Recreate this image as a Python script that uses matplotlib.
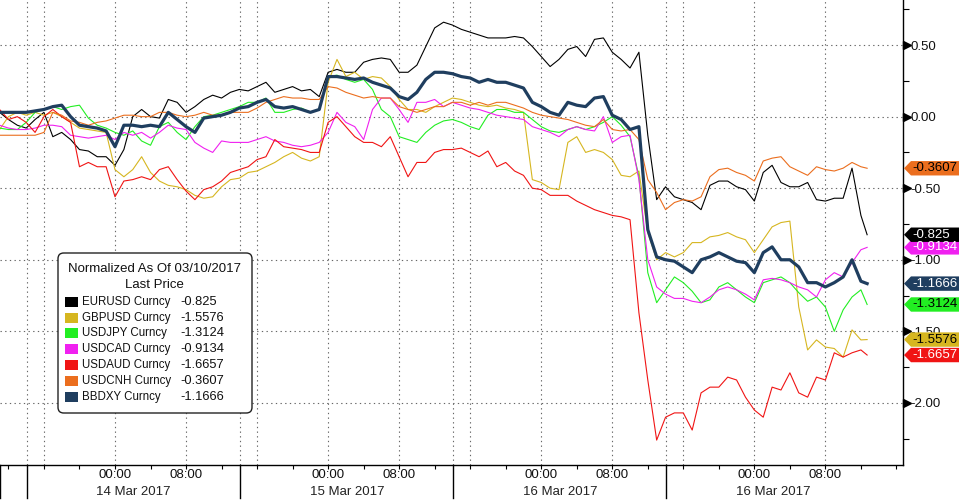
import numpy as np
import matplotlib
matplotlib.use("Agg")
import matplotlib.pyplot as plt
from matplotlib.patches import Polygon, Rectangle, FancyBboxPatch
from matplotlib.transforms import blended_transform_factory

plt.rcParams['font.family'] = ['Liberation Sans', 'DejaVu Sans']
plt.rcParams['font.size'] = 9

# time axis: hours since 13 Mar 2017 00:00
hours = list(range(11, 109)) + [108.7]

eurusd = [0.03, -0.02, -0.06, -0.08, -0.02, 0.03, -0.14, -0.11, -0.16, -0.23,
          -0.24, -0.28, -0.28, -0.34, -0.23, 0.00, 0.05, 0.00, -0.01, 0.12,
          0.10, 0.03, 0.07, 0.12, 0.15, 0.13, 0.17, 0.19, 0.18, 0.21,
          0.24, 0.17, 0.19, 0.21, 0.18, 0.19, 0.14, 0.31, 0.33, 0.31,
          0.31, 0.38, 0.40, 0.41, 0.40, 0.31, 0.31, 0.36, 0.49, 0.62,
          0.66, 0.64, 0.61, 0.59, 0.57, 0.55, 0.55, 0.55, 0.56, 0.55,
          0.49, 0.42, 0.35, 0.40, 0.47, 0.49, 0.42, 0.54, 0.55, 0.45,
          0.40, 0.34, 0.45, -0.13, -0.58, -0.49, -0.56, -0.58, -0.60, -0.65,
          -0.48, -0.45, -0.45, -0.49, -0.51, -0.59, -0.39, -0.34, -0.46, -0.49,
          -0.49, -0.46, -0.58, -0.59, -0.57, -0.57, -0.36, -0.69, -0.825]

gbpusd = [-0.09, 0.00, 0.03, 0.01, 0.03, 0.01, 0.03, 0.00, -0.04, -0.08,
          -0.09, -0.10, -0.11, -0.37, -0.42, -0.37, -0.28, -0.39, -0.45, -0.48,
          -0.49, -0.51, -0.55, -0.57, -0.56, -0.49, -0.44, -0.43, -0.39, -0.38,
          -0.35, -0.32, -0.28, -0.25, -0.29, -0.31, -0.28, 0.24, 0.40, 0.28,
          0.31, 0.26, 0.28, 0.27, 0.21, 0.12, 0.05, 0.05, 0.03, 0.07,
          0.10, 0.13, 0.12, 0.10, 0.08, 0.07, 0.08, 0.06, 0.05, 0.03,
          -0.44, -0.46, -0.50, -0.51, -0.18, -0.14, -0.25, -0.23, -0.25, -0.30,
          -0.41, -0.42, -0.38, -0.81, -1.00, -0.95, -0.98, -0.95, -0.88, -0.88,
          -0.84, -0.83, -0.81, -0.84, -0.86, -0.95, -0.86, -0.77, -0.74, -0.73,
          -1.33, -1.63, -1.56, -1.61, -1.62, -1.68, -1.49, -1.56, -1.5576]

usdjpy = [-0.08, -0.09, -0.09, -0.04, 0.03, 0.05, 0.07, 0.05, 0.07, 0.08,
          -0.01, -0.06, -0.08, -0.11, -0.13, -0.10, -0.17, -0.20, -0.07, -0.04,
          -0.11, -0.16, -0.07, 0.00, 0.01, 0.03, 0.05, 0.07, 0.10, 0.10,
          0.13, 0.03, 0.03, 0.05, 0.06, 0.03, 0.05, 0.28, 0.29, 0.26,
          0.24, 0.26, 0.19, 0.05, 0.00, -0.14, -0.16, -0.18, -0.11, -0.06,
          -0.03, -0.02, -0.04, -0.07, -0.09, 0.01, 0.05, 0.05, 0.03, 0.03,
          -0.02, -0.07, -0.10, -0.11, -0.09, -0.07, -0.09, -0.07, -0.04, 0.00,
          -0.06, -0.14, -0.42, -1.09, -1.30, -1.21, -1.12, -1.16, -1.22, -1.30,
          -1.28, -1.19, -1.16, -1.21, -1.26, -1.30, -1.16, -1.14, -1.12, -1.16,
          -1.23, -1.29, -1.26, -1.33, -1.50, -1.35, -1.26, -1.21, -1.3124]

usdcad = [-0.06, -0.08, -0.09, -0.09, -0.08, -0.06, -0.06, -0.07, -0.13, -0.14,
          -0.15, -0.14, -0.13, -0.16, -0.11, -0.13, -0.11, -0.15, -0.11, -0.06,
          -0.08, -0.09, -0.18, -0.22, -0.25, -0.17, -0.18, -0.18, -0.18, -0.16,
          -0.14, -0.17, -0.18, -0.20, -0.21, -0.20, -0.18, -0.11, 0.03, -0.04,
          -0.07, -0.16, 0.05, 0.13, 0.13, 0.05, -0.04, 0.10, 0.10, 0.12,
          0.07, 0.10, 0.08, 0.06, 0.05, 0.03, 0.01, 0.00, -0.01, -0.02,
          -0.07, -0.09, -0.11, -0.14, -0.09, -0.07, -0.09, -0.10, 0.00, -0.18,
          -0.14, -0.13, -0.44, -1.00, -1.19, -1.24, -1.27, -1.27, -1.29, -1.30,
          -1.26, -1.21, -1.19, -1.21, -1.24, -1.28, -1.14, -1.13, -1.14, -1.16,
          -1.19, -1.21, -1.26, -1.14, -1.09, -1.12, -1.02, -0.93, -0.9134]

usdaud = [0.05, -0.02, 0.00, -0.04, -0.11, 0.00, 0.05, 0.00, -0.04, -0.35,
          -0.32, -0.35, -0.35, -0.56, -0.45, -0.44, -0.42, -0.44, -0.37, -0.35,
          -0.44, -0.52, -0.58, -0.51, -0.49, -0.45, -0.39, -0.37, -0.35, -0.30,
          -0.28, -0.16, -0.21, -0.22, -0.23, -0.25, -0.25, -0.04, 0.00, -0.07,
          -0.14, -0.18, -0.18, -0.21, -0.14, -0.28, -0.42, -0.32, -0.32, -0.25,
          -0.23, -0.23, -0.22, -0.25, -0.28, -0.24, -0.35, -0.32, -0.38, -0.41,
          -0.50, -0.51, -0.55, -0.55, -0.55, -0.59, -0.62, -0.65, -0.67, -0.69,
          -0.70, -0.72, -1.37, -1.84, -2.26, -2.10, -2.07, -2.07, -2.19, -1.93,
          -1.89, -1.89, -1.82, -1.84, -1.96, -2.05, -2.10, -1.89, -1.91, -1.79,
          -1.93, -1.96, -1.82, -1.84, -1.65, -1.68, -1.65, -1.63, -1.6657]

usdcnh = [-0.13, -0.13, -0.13, -0.13, -0.13, -0.11, 0.03, 0.01, -0.03, -0.04,
          -0.06, -0.04, -0.03, -0.01, 0.01, 0.01, 0.00, 0.00, 0.03, 0.03,
          0.01, 0.00, 0.01, 0.03, 0.01, 0.01, 0.03, 0.03, 0.03, 0.06,
          0.10, 0.12, 0.14, 0.13, 0.13, 0.12, 0.12, 0.21, 0.20, 0.17,
          0.15, 0.13, 0.14, 0.13, 0.13, 0.07, 0.05, 0.03, 0.05, 0.07,
          0.07, 0.10, 0.10, 0.08, 0.10, 0.08, 0.10, 0.10, 0.08, 0.06,
          0.03, 0.01, 0.00, -0.01, -0.02, -0.04, -0.06, -0.07, -0.02, -0.09,
          -0.10, -0.09, -0.16, -0.44, -0.53, -0.65, -0.60, -0.58, -0.59, -0.56,
          -0.42, -0.37, -0.36, -0.39, -0.41, -0.45, -0.31, -0.29, -0.28, -0.35,
          -0.38, -0.41, -0.35, -0.37, -0.38, -0.36, -0.32, -0.35, -0.3607]

bbdxy = [0.03, 0.03, 0.03, 0.03, 0.04, 0.05, 0.07, 0.08, 0.00, -0.06,
         -0.07, -0.08, -0.10, -0.21, -0.06, -0.06, -0.07, -0.06, -0.07, 0.03,
         -0.02, -0.07, -0.11, -0.01, 0.00, 0.01, 0.03, 0.06, 0.07, 0.10,
         0.12, 0.07, 0.06, 0.07, 0.05, 0.03, 0.05, 0.28, 0.28, 0.27,
         0.26, 0.27, 0.24, 0.22, 0.20, 0.14, 0.12, 0.17, 0.26, 0.31,
         0.31, 0.30, 0.28, 0.27, 0.24, 0.26, 0.24, 0.24, 0.22, 0.20,
         0.10, 0.07, 0.03, 0.01, 0.10, 0.08, 0.07, 0.13, 0.14, 0.01,
         -0.02, -0.09, -0.07, -0.79, -0.98, -1.00, -1.01, -1.05, -1.09, -1.00,
         -0.98, -0.95, -0.98, -1.01, -1.02, -1.09, -0.95, -0.91, -1.00, -1.00,
         -1.05, -1.16, -1.16, -1.19, -1.16, -1.12, -1.00, -1.15, -1.1666]

names = ["EURUSD Curncy", "GBPUSD Curncy", "USDJPY Curncy", "USDCAD Curncy",
         "USDAUD Curncy", "USDCNH Curncy", "BBDXY Curncy"]
last_labels = ["-0.825", "-1.5576", "-1.3124", "-0.9134", "-1.6657", "-0.3607", "-1.1666"]
series = [eurusd, gbpusd, usdjpy, usdcad, usdaud, usdcnh, bbdxy]
colors = ["#000000", "#D6B620", "#22EE22", "#F020F0", "#F01414", "#EB6E1E", "#1F3E5F"]
box_text_colors = ["white", "black", "black", "white", "white", "black", "white"]
widths = [0.8, 0.8, 0.8, 0.8, 0.8, 0.8, 2.3]

yticks = [0.5, 0.0, -0.5, -1.0, -1.5, -2.0]
ytick_labels = ["0.50", "0.00", "-0.50", "-1.00", "-1.50", "-2.00"]
day_separators = [14.1, 38.1, 62.1, 86.1]
grid_hours = [16, 24, 32, 40, 48, 56, 64, 72, 80, 88, 96, 104]
time_labels = [(24, "00:00"), (32, "08:00"), (48, "00:00"), (56, "08:00"),
               (72, "00:00"), (80, "08:00"), (96, "00:00"), (104, "08:00")]
date_labels = [(26.1, "14 Mar 2017"), (50.1, "15 Mar 2017"),
               (74.1, "16 Mar 2017"), (98.1, "16 Mar 2017")]

W, H = 959, 503
fig = plt.figure(figsize=(W / 100, H / 100), dpi=100)
ax = fig.add_axes([0, 38 / H, 903 / W, 465 / H])
ax.set_xlim(11.05, 112.74)
ax.set_ylim(-2.434, 0.815)

grid_kw = dict(color="#666666", lw=0.8, linestyle=(0, (1.2, 3)), zorder=0)
for v in yticks:
    ax.axhline(v, **grid_kw)
for hgl in grid_hours + day_separators:
    ax.axvline(hgl, **grid_kw)

for s, c, w in zip(series, colors, widths):
    ax.plot(hours, s, color=c, lw=w, zorder=2 if w < 2 else 3)

for sp in ["top", "left"]:
    ax.spines[sp].set_visible(False)
ax.spines["right"].set_linewidth(1.0)
ax.spines["bottom"].set_linewidth(1.0)

ax.yaxis.tick_right()
ax.set_yticks(yticks)
ax.set_yticklabels(ytick_labels)
ax.set_yticks([0.75, 0.25, -0.25, -0.75, -1.25, -1.75, -2.25], minor=True)
ax.tick_params(axis="y", which="major", length=0, pad=5.5, labelsize=9.5, labelcolor="#111111")
ax.tick_params(axis="y", which="minor", length=4, width=0.8, direction="out")
ax.set_xticks(list(range(12, 113, 4)))
ax.set_xticklabels([])
ax.tick_params(axis="x", which="major", length=3, width=0.8, direction="out")

# triangle pointers for major y ticks
btr = blended_transform_factory(ax.transAxes, ax.transData)
for v in yticks:
    ax.plot([1.0045], [v], marker=">", color="black", markersize=5.5,
            transform=btr, clip_on=False, zorder=5)

# day separators below the axis
bx = blended_transform_factory(ax.transData, ax.transAxes)
for sx in [11.1] + day_separators:
    ax.plot([sx, sx], [0, -0.071], color="black", lw=1.0, transform=bx, clip_on=False)

for hx, lab in time_labels:
    ax.text(hx, -0.0215, lab, transform=bx, ha="center", va="center", fontsize=9.5, color="#111111")
for hx, lab in date_labels:
    ax.text(hx, -0.058, lab, transform=bx, ha="center", va="center", fontsize=9.5, color="#222222")

# value boxes at right
fig.canvas.draw()
order = [4, 1, 2, 6, 3, 0, 5]
for i in order:
    v = series[i][-1]
    ypix = ax.transData.transform((100, v))[1]
    yc = ypix / H
    hh = 7.2 / H
    pts = [(904 / W, yc), (911 / W, yc + hh), (1.01, yc + hh), (1.01, yc - hh), (911 / W, yc - hh)]
    fig.add_artist(Polygon(pts, closed=True, transform=fig.transFigure,
                           facecolor=colors[i], edgecolor="none", zorder=6))
    fig.text(912 / W, yc, last_labels[i], ha="left", va="center", fontsize=9.5,
             color=box_text_colors[i], zorder=7)

# legend box
def fx(x):
    return x / W

def fy(y):
    return 1 - y / H

fig.add_artist(FancyBboxPatch((fx(58), fy(413)), fx(252) - fx(58), fy(253) - fy(413),
                              boxstyle="round,pad=0,rounding_size=0.006",
                              mutation_aspect=W / H, transform=fig.transFigure,
                              facecolor="white", edgecolor="#222222", lw=1.0, zorder=8))
fig.text(fx(155), fy(269), "Normalized As Of 03/10/2017", ha="center", va="center",
         fontsize=9.5, color="#111111", zorder=9)
fig.text(fx(154), fy(285), "Last Price", ha="center", va="center",
         fontsize=9.5, color="#111111", zorder=9)
row_y = [302, 318, 333, 349, 365, 381, 397]
for i in range(len(names)):
    yy = row_y[i]
    fig.add_artist(Rectangle((fx(65), fy(yy + 5)), fx(13), 10 / H, transform=fig.transFigure,
                             facecolor=colors[i], edgecolor="none", zorder=9))
    fig.text(fx(82), fy(yy), names[i], ha="left", va="center", fontsize=8.3,
             color="#111111", zorder=9)
    fig.text(fx(180), fy(yy), last_labels[i], ha="left", va="center", fontsize=9.3,
             color="#111111", zorder=9)

fig.savefig("out.png", dpi=100, facecolor="white")
